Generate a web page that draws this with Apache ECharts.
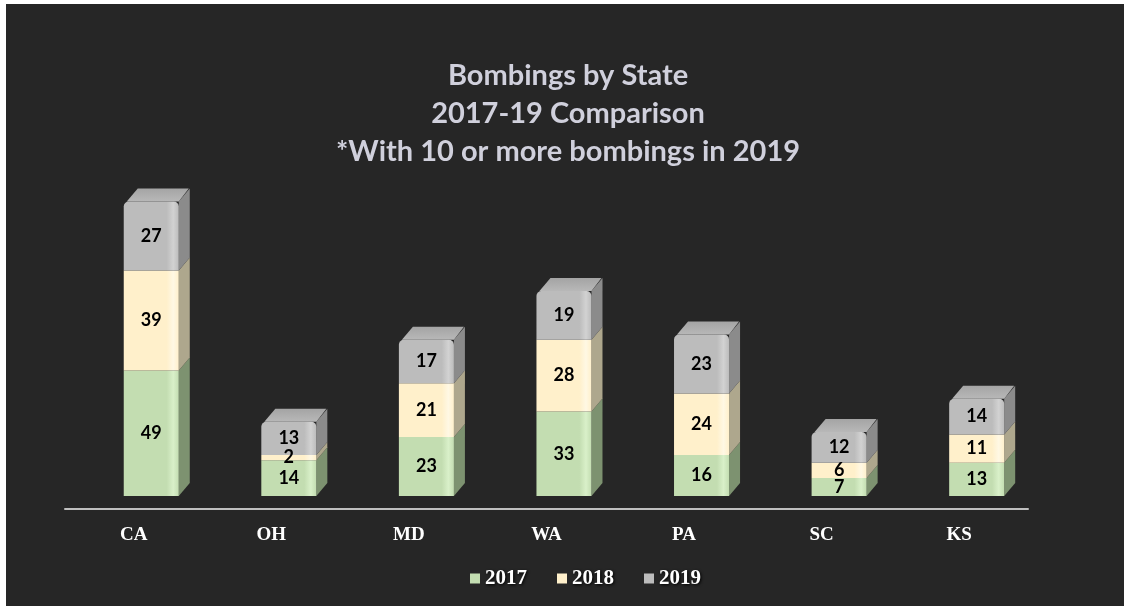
<!DOCTYPE html>
<html>
<head>
<meta charset="utf-8">
<title>Bombings by State</title>
<script src="https://cdn.jsdelivr.net/npm/echarts@6/dist/echarts.min.js"></script>
<style>
  html, body { margin: 0; padding: 0; background: #fff; }
  #main {
    width: 1124px; height: 606px;
    background: #262626;
    box-shadow: inset 6px 4px 0 #fff;
  }
</style>
</head>
<body>
<div id="main"></div>
<script>
// data
var categories = ['CA', 'OH', 'MD', 'WA', 'PA', 'SC', 'KS'];
var years = ['2017', '2018', '2019'];
var y2017 = [49, 14, 23, 33, 16, 7, 13];
var y2018 = [39, 2, 21, 28, 24, 6, 11];
var y2019 = [27, 13, 17, 19, 23, 12, 14];

// colours of the faces: front, highlight, side
var palette = [
  { front: '#c3ddb1', light: '#d9f0c9', side: '#7d9270' },
  { front: '#fff0cb', light: '#fff8e4', side: '#aea78d' },
  { front: '#bcbcbc', light: '#d2d2d2', side: '#8b8b8b', top: '#a4a4a4' }
];

var DX = 11, DY = 13;   // depth of the fake 3d
var LIFT = 13;          // bars stand behind the floor line

// stacked data: [category, base, value]
function stackData(list, prev) {
  return list.map(function (v, i) {
    var base = 0;
    prev.forEach(function (p) { base += p[i]; });
    return [i, base, v];
  });
}

function makeRender(col, isTop) {
  return function (params, api) {
    var c = api.value(0), base = api.value(1), v = api.value(2);
    var p0 = api.coord([c, base]);
    var p1 = api.coord([c, base + v]);
    var band = api.size([1, 0])[0];
    var w = band * 0.4;
    var x = p0[0] + band * 0.127 - w / 2;
    var y0 = p0[1] - LIFT, y1 = p1[1] - LIFT;
    var kids = [];
    // side
    kids.push({
      type: 'polygon',
      shape: { points: [[x + w, y1], [x + w + DX, y1 - DY], [x + w + DX, y0 - DY], [x + w, y0]] },
      style: { fill: col.side }
    });
    // front
    kids.push({
      type: 'rect',
      shape: { x: x, y: y1, width: w, height: y0 - y1, r: isTop ? [5, 5, 0, 0] : 0 },
      style: {
        fill: {
          type: 'linear', x: 0, y: 0, x2: 1, y2: 0,
          colorStops: [
            { offset: 0, color: col.front },
            { offset: 0.78, color: col.front },
            { offset: 0.9, color: col.light },
            { offset: 1, color: col.front }
          ]
        }
      }
    });
    if (isTop) {
      kids.push({
        type: 'polygon',
        shape: { points: [[x + 3, y1], [x + DX + 3, y1 - DY], [x + w + DX - 1, y1 - DY], [x + w, y1]] },
        style: {
          fill: {
            type: 'linear', x: 0, y: 1, x2: 0, y2: 0,
            colorStops: [
              { offset: 0, color: '#b8b8b8' },
              { offset: 1, color: col.top }
            ]
          }
        }
      });
    }
    kids.push({
      type: 'text',
      z2: 10,
      style: {
        text: String(v),
        x: x + w / 2,
        y: (y0 + y1) / 2,
        align: 'center',
        verticalAlign: 'middle',
        fill: '#000',
        font: 'bold 18px Lato'
      }
    });
    return { type: 'group', children: kids };
  };
}

var series = [
  { name: years[0], data: stackData(y2017, []), col: palette[0], top: false },
  { name: years[1], data: stackData(y2018, [y2017]), col: palette[1], top: false },
  { name: years[2], data: stackData(y2019, [y2017, y2018]), col: palette[2], top: true }
].map(function (s) {
  return {
    type: 'custom',
    name: s.name,
    data: s.data,
    encode: { x: 0, y: 2 },
    itemStyle: { color: s.col.front },
    renderItem: makeRender(s.col, s.top)
  };
});

var chart = echarts.init(document.getElementById('main'));
chart.setOption({
  backgroundColor: 'transparent',
  animation: false,
  title: {
    text: 'Bombings by State\n2017-19 Comparison\n*With 10 or more bombings in 2019',
    left: 563,
    top: 52,
    textAlign: 'center',
    textStyle: {
      color: '#d0d0dc',
      fontFamily: 'Lato',
      fontWeight: 'bold',
      fontSize: 29,
      lineHeight: 38
    }
  },
  legend: {
    data: years,
    left: 465,
    top: 563,
    icon: 'rect',
    itemWidth: 10,
    itemHeight: 10,
    itemGap: 30,
    textStyle: {
      color: '#fff',
      fontFamily: 'Liberation Serif',
      fontWeight: 'bold',
      fontSize: 21,
      textShadowColor: '#000',
      textShadowBlur: 3,
      textShadowOffsetX: 1,
      textShadowOffsetY: 1
    }
  },
  grid: { left: 65, right: 96, top: 176, bottom: 97 },
  xAxis: {
    type: 'category',
    data: categories,
    axisLine: { lineStyle: { color: '#bfbfbf', width: 2 } },
    axisTick: { show: false },
    axisLabel: {
      margin: 17,
      color: '#fff',
      fontFamily: 'Liberation Serif',
      fontWeight: 'bold',
      fontSize: 19
    }
  },
  yAxis: {
    type: 'value',
    min: 0,
    max: 130,
    show: false
  },
  series: series
});
</script>
</body>
</html>
